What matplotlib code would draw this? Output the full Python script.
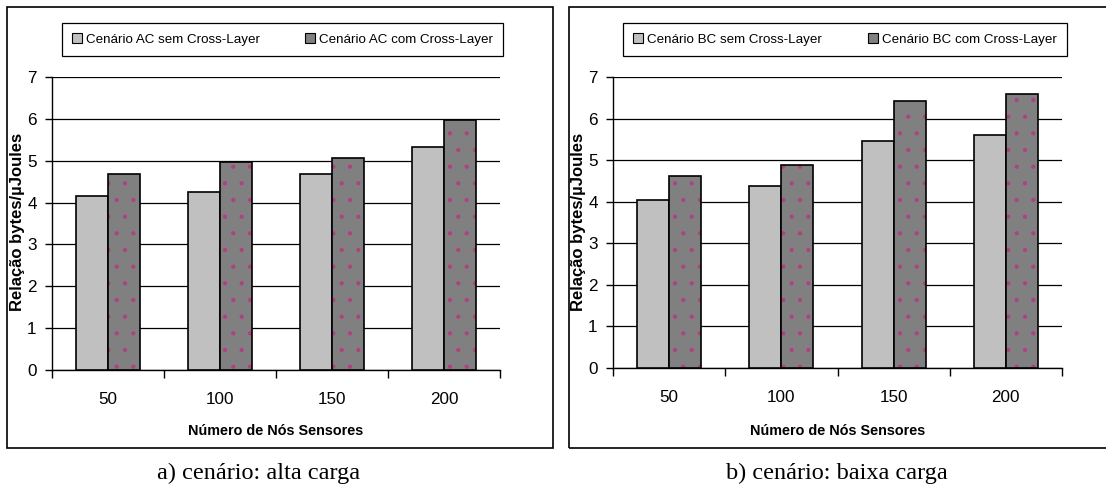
import matplotlib
matplotlib.use('Agg')
import matplotlib.pyplot as plt
from matplotlib.patches import Rectangle, Patch
import numpy as np

plt.rcParams['font.family'] = ['Liberation Sans', 'DejaVu Sans']
plt.rcParams['hatch.linewidth'] = 0.6

# dados
nos = ['50', '100', '150', '200']
ac_sem = [4.15, 4.25, 4.68, 5.32]
ac_com = [4.68, 4.97, 5.07, 5.97]
bc_sem = [4.03, 4.38, 5.46, 5.60]
bc_com = [4.63, 4.89, 6.43, 6.60]

W, H = 1106, 487
fig = plt.figure(figsize=(W / 100, H / 100), dpi=100)

cinza_claro = '#c0c0c0'
cinza_escuro = '#808080'
rosa = '#b04080'


def px(x0, y0, x1, y1):
    # converte pixels da imagem para coordenadas da figura
    return [x0 / W, 1 - y1 / H, (x1 - x0) / W, (y1 - y0) / H]


def painel(pos, sem, com, nome, leg_pos, xlab_x, ylab_x, cap_x, legenda):
    ax = fig.add_axes(pos)
    x = np.arange(len(nos))
    larg = 0.285
    ax.bar(x - larg / 2, sem, larg, color=cinza_claro, edgecolor='black', linewidth=1.2, zorder=3)
    # barra escura com pontinhos rosa
    ax.bar(x + larg / 2, com, larg, color=cinza_escuro, edgecolor=rosa, linewidth=0, hatch='.', zorder=3)
    ax.bar(x + larg / 2, com, larg, fill=False, edgecolor='black', linewidth=1.2, zorder=4)

    ax.set_xlim(-0.5, len(nos) - 0.5)
    ax.set_ylim(0, 7)
    ax.set_yticks(range(8))
    ax.yaxis.grid(True, color='black', linewidth=0.9, zorder=0)
    ax.set_axisbelow(True)
    ax.set_xticks(np.arange(len(nos) + 1) - 0.5)
    ax.set_xticklabels([])
    ax.set_xticks(x, minor=True)
    ax.set_xticklabels(nos, minor=True)
    ax.tick_params(axis='x', which='minor', length=0, pad=16, labelsize=12.3)
    ax.tick_params(axis='x', which='major', length=6, width=1, direction='out')
    ax.tick_params(axis='y', length=5, width=1, labelsize=12.3, pad=6)
    for s in ['top', 'right']:
        ax.spines[s].set_visible(False)
    for s in ['left', 'bottom']:
        ax.spines[s].set_linewidth(1)

    handles = [Patch(facecolor=cinza_claro, edgecolor='black', linewidth=0.8),
               Patch(facecolor=cinza_escuro, edgecolor='black', linewidth=0.8)]
    lg = ax.legend(handles, legenda, loc='center', ncol=2, mode='expand',
                   bbox_to_anchor=leg_pos, bbox_transform=fig.transFigure,
                   borderaxespad=0, fancybox=False, edgecolor='black', framealpha=1,
                   fontsize=9.6, handlelength=0.75, handleheight=0.75, handletextpad=0.3,
                   columnspacing=1.0, borderpad=0.75)
    lg.get_frame().set_linewidth(0.9)

    fig.text(xlab_x / W, 1 - 431 / H, 'Número de Nós Sensores', ha='center', va='center',
             fontsize=10.4, fontweight='bold')
    fig.text(ylab_x / W, 1 - 222 / H, 'Relação bytes/µJoules', ha='center', va='center',
             rotation=90, fontsize=12, fontweight='bold')
    fig.text(cap_x / W, 1 - 473 / H, nome, ha='center', va='center', fontsize=17.5,
             family='Liberation Serif')
    return ax


# molduras dos dois paineis
fig.patches.append(Rectangle((7 / W, 1 - 448 / H), (553 - 7) / W, (448 - 7) / H,
                             transform=fig.transFigure, fill=False, edgecolor='black', linewidth=1.2))
fig.patches.append(Rectangle((569 / W, 1 - 448 / H), (1110 - 569) / W, (448 - 7) / H,
                             transform=fig.transFigure, fill=False, edgecolor='black', linewidth=1.2))

painel(px(52, 77, 500, 370), ac_sem, ac_com, 'a) cenário: alta carga',
       px(62, 22, 503, 57), 276, 18, 259,
       ['Cenário AC sem Cross-Layer', 'Cenário AC com Cross-Layer'])
painel(px(613, 77, 1062, 368), bc_sem, bc_com, 'b) cenário: baixa carga',
       px(623, 22, 1067, 57), 838, 579, 837,
       ['Cenário BC sem Cross-Layer', 'Cenário BC com Cross-Layer'])

fig.savefig('out.png', dpi=100)
